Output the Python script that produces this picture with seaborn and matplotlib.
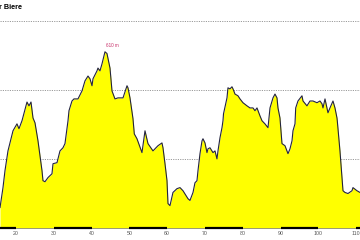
import matplotlib
matplotlib.use("Agg")
import matplotlib.pyplot as plt
import seaborn as sns
import pandas as pd

km = [15.77, 16.56, 17.09, 17.88, 18.41, 19.21, 20.26, 20.79, 21.59, 22.91, 23.44, 23.97, 24.50, 25.03,
      25.82, 26.88, 27.14, 27.67, 28.47, 29.52, 29.79, 30.85, 31.64, 32.43, 32.96, 33.76, 34.02, 34.81,
      35.34, 36.40, 37.46, 38.25, 39.05, 39.58, 40.11, 40.37, 41.43, 41.69, 42.22, 42.75, 43.54, 44.07,
      44.87, 45.40, 46.19, 46.98, 48.04, 48.31, 49.37, 49.63, 50.16, 50.95, 51.30, 52.01, 53.33, 54.13,
      54.92, 56.24, 57.57, 58.62, 58.89, 59.42, 59.95, 60.21, 60.74, 61.53, 62.59, 63.39, 64.18, 65.50,
      66.03, 66.83, 67.35, 67.88, 68.15, 68.68, 69.21, 69.47, 70.00, 70.53, 70.79, 71.32, 71.85, 72.12,
      72.65, 73.17, 73.44, 73.97, 74.50, 74.76, 74.90, 75.82, 76.08, 76.61, 77.14, 77.41, 77.94, 78.73,
      79.26, 80.05, 81.11, 81.90, 82.70, 83.23, 83.76, 84.55, 85.08, 85.87, 86.67, 87.20, 87.99, 88.52,
      89.05, 89.31, 89.84, 90.37, 91.16, 91.96, 92.49, 93.02, 93.28, 93.81, 94.00, 94.60, 95.66, 95.93,
      96.98, 97.78, 98.57, 99.63, 100.42, 100.95, 101.22, 101.75, 102.28, 102.54, 103.07, 103.86, 104.39,
      104.92, 105.00, 105.71, 106.51, 107.04, 107.83, 108.89, 109.15, 110.21, 111.01]
elev = [160, 218, 267, 324, 347, 382, 402, 388, 411, 465, 454, 465, 419, 405,
        353, 267, 238, 235, 247, 258, 287, 290, 324, 333, 345, 411, 440, 468,
        474, 474, 497, 526, 540, 532, 512, 532, 555, 563, 555, 575, 610, 605,
        563, 497, 474, 477, 477, 477, 512, 506, 477, 417, 373, 359, 319, 382,
        345, 324, 339, 347, 333, 287, 238, 172, 166, 204, 215, 218, 209, 186,
        181, 204, 232, 238, 267, 316, 353, 359, 347, 319, 330, 333, 324, 319,
        324, 301, 324, 362, 391, 411, 431, 477, 506, 503, 509, 503, 488, 483,
        474, 463, 454, 448, 448, 440, 448, 425, 411, 402, 391, 448, 477, 488,
        477, 448, 419, 345, 339, 316, 330, 353, 382, 402, 448, 468, 483, 468,
        454, 468, 468, 463, 468, 460, 448, 474, 448, 434, 448, 468, 448,
        419, 411, 324, 209, 204, 201, 209, 218, 209, 204]

tick_km = [20, 30, 40, 50, 60, 70, 80, 90, 100, 110]
tick_labels = ["20", "30", "40", "50", "60", "70", "80", "90", "100", "110"]
grid_levels = [300, 500, 700]
scale_starts = [10, 30, 50, 70, 90, 110]
scale_ends = [20, 40, 60, 80, 100, 120]
peak_label = "610 m"
peak_km = 43.54
peak_elev = 610
title = "r Biere"

df = pd.DataFrame({"km": km, "elev": elev})

sns.set_style("white")
fig = plt.figure(figsize=(3.6, 2.4), dpi=100)
ax = fig.add_axes([0, 11.5 / 240, 1, 228.5 / 240])

ymin, ymax = 100, 100 + 228.5 * 200 / 69.3
xmin, xmax = 15.77, 111.01

for g in grid_levels:
    ax.axhline(g, color="#9a9a9a", lw=0.7, ls=(0, (1.2, 1.2)), zorder=1)

ax.fill_between(df["km"], df["elev"], ymin, color="#FFFF00", zorder=2, lw=0)
sns.lineplot(data=df, x="km", y="elev", ax=ax, color="#23233f", lw=0.8, zorder=3)

ax.hlines(ymin, xmin, xmax, color="#8a8a8a", lw=0.6, zorder=4, clip_on=False)
ax.hlines([ymin] * len(scale_starts), scale_starts, scale_ends, color="black", lw=1.6,
          zorder=5, clip_on=False)

ax.text(peak_km + 2.0, peak_elev + 12, peak_label, color="#c8306a", fontsize=3.3,
        ha="center", va="bottom", family="Liberation Sans")

ax.set_xlim(xmin, xmax)
ax.set_ylim(ymin, ymax)
ax.set_xticks(tick_km)
ax.set_xticklabels(tick_labels, fontsize=3.8, color="#555555", family="Liberation Sans")
ax.tick_params(axis="x", length=0, pad=1.5)
ax.set_yticks([])
ax.set_xlabel("")
ax.set_ylabel("")
for s in ax.spines.values():
    s.set_visible(False)

fig.text(-0.003, 1 - 7.5 / 240, title, fontsize=5.2, fontweight="bold", color="black",
         ha="left", va="center", family="Liberation Sans")

fig.savefig("out.png", dpi=100)
